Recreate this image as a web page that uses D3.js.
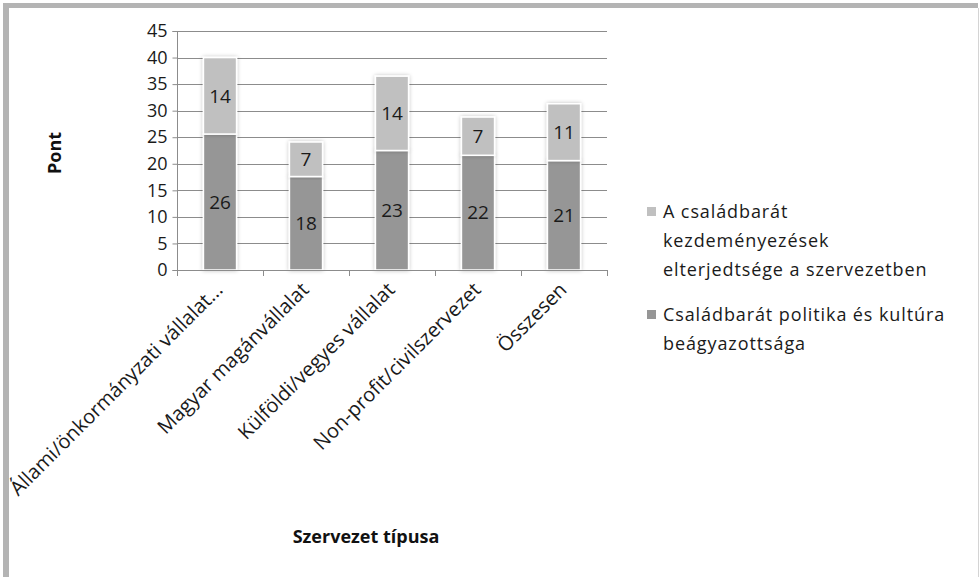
<!DOCTYPE html>
<html><head><meta charset="utf-8">
<script src="https://cdn.jsdelivr.net/npm/d3@7"></script>
<style>
body{margin:0;background:#fff;}
svg{display:block;font-family:"Open Sans",sans-serif;}
</style></head>
<body>
<svg id="c" width="980" height="577"></svg>
<script>
const categories = ["Állami/önkormányzati vállalat...","Magyar magánvállalat","Külföldi/vegyes vállalat","Non-profit/civilszervezet","Összesen"];
const seriesNames = ["Családbarát politika és kultúra beágyazottsága","A családbarát kezdeményezések elterjedtsége a szervezetben"];
const politika = [25.6, 17.6, 22.5, 21.6, 20.6];
const kezdemenyezes = [14.4, 6.5, 14.0, 7.2, 10.7];
const yTicks = [0,5,10,15,20,25,30,35,40,45];
const legendLines = [["A családbarát","kezdeményezések","elterjedtsége a szervezetben"],["Családbarát politika és kultúra","beágyazottsága"]];

const svg = d3.select("#c");
const colors = ["#969696","#c0c0c0"];

// frame
svg.append("rect").attr("x",3).attr("y",3).attr("width",975).attr("height",5).attr("fill","#b4b4b4");
svg.append("rect").attr("x",3).attr("y",3).attr("width",6).attr("height",574).attr("fill","#b4b4b4");
svg.append("rect").attr("x",978).attr("y",8).attr("width",1).attr("height",569).attr("fill","#d4d4d4");

const defs = svg.append("defs");
const f = defs.append("filter").attr("id","sh").attr("x","-30%").attr("y","-10%").attr("width","160%").attr("height","120%");
f.append("feGaussianBlur").attr("in","SourceAlpha").attr("stdDeviation",2).attr("result","b");
f.append("feComponentTransfer").attr("in","b").attr("result","b2").append("feFuncA").attr("type","linear").attr("slope",0.25);
const m = f.append("feMerge"); m.append("feMergeNode").attr("in","b2"); m.append("feMergeNode").attr("in","SourceGraphic");

const x0 = 177, x1 = 607, yb = 270, yt = 31;
const x = d3.scaleBand().domain(categories).range([x0,x1]).paddingInner(0.615).paddingOuter(0.3075);
const y = d3.scaleLinear().domain([0,45]).range([yb,yt]);

// gridlines
svg.append("g").selectAll("line").data(yTicks.filter(d=>d>0)).join("line")
  .attr("x1",x0).attr("x2",x1).attr("y1",d=>Math.round(y(d))+0.5).attr("y2",d=>Math.round(y(d))+0.5)
  .attr("stroke","#8c8c8c").attr("stroke-width",1);

// stacked bars
const rows = categories.map((c,i)=>({cat:c, politika:politika[i], kezdemenyezes:kezdemenyezes[i]}));
const stack = d3.stack().keys(["politika","kezdemenyezes"])(rows);
const gb = svg.append("g");
stack.forEach((layer,li)=>{
  gb.append("g").selectAll("rect").data(layer).join("rect")
    .attr("x",d=>x(d.data.cat)).attr("width",x.bandwidth())
    .attr("y",d=>y(d[1])).attr("height",d=>y(d[0])-y(d[1]))
    .attr("fill",colors[li]).attr("stroke","#fff").attr("stroke-width",1.5)
    .attr("filter","url(#sh)");
});
stack.forEach((layer,li)=>{
  gb.append("g").selectAll("text").data(layer).join("text")
    .attr("x",d=>x(d.data.cat)+x.bandwidth()/2).attr("y",d=>(y(d[0])+y(d[1]))/2)
    .attr("dy","0.36em").attr("text-anchor","middle").attr("font-size",19).attr("fill","#1a1a1a")
    .text(d=>Math.round(d[1]-d[0]));
});

// axes
const ya = d3.axisLeft(y).tickValues(yTicks).tickSize(5).tickPadding(5);
const gy = svg.append("g").attr("transform",`translate(${x0+0.5},0)`).call(ya);
gy.select(".domain").attr("stroke","#8c8c8c").attr("d",`M-5,${yb+0.5}H0V${yt+0.5}H-5`);
gy.selectAll(".tick line").attr("stroke","#8c8c8c");
gy.selectAll(".tick text").attr("font-size",18).attr("fill","#1a1a1a").attr("font-family","Open Sans");

const bounds = d3.range(categories.length+1).map(i=>x0+i*x.step());
const gx = svg.append("g");
gx.append("line").attr("x1",x0).attr("x2",x1).attr("y1",yb+0.5).attr("y2",yb+0.5).attr("stroke","#8c8c8c");
gx.selectAll("line.t").data(bounds).join("line").attr("class","t")
  .attr("x1",d=>Math.round(d)+0.5).attr("x2",d=>Math.round(d)+0.5).attr("y1",yb).attr("y2",yb+6).attr("stroke","#8c8c8c");
gx.selectAll("text").data(categories).join("text")
  .attr("transform",d=>`translate(${x(d)+x.bandwidth()/2+4},${yb+21}) rotate(-45)`)
  .attr("text-anchor","end").attr("font-size",20).attr("fill","#1a1a1a").text(d=>d);

// axis titles
svg.append("text").attr("transform","translate(61,153) rotate(-90)").attr("text-anchor","middle")
  .attr("font-size",18).attr("font-weight","bold").attr("fill","#111").text("Pont");
svg.append("text").attr("x",366).attr("y",543).attr("text-anchor","middle")
  .attr("font-size",18).attr("font-weight","bold").attr("fill","#111").text("Szervezet típusa");

// legend
const lg = svg.append("g");
const legendItems = [{lines:legendLines[0], color:colors[1], y0:212},{lines:legendLines[1], color:colors[0], y0:315}];
legendItems.forEach(it=>{
  lg.append("rect").attr("x",647).attr("y",it.y0-5).attr("width",9).attr("height",9).attr("fill",it.color);
  it.lines.forEach((ln,j)=>{
    lg.append("text").attr("x",663).attr("y",it.y0+j*29).attr("dy","0.35em").attr("font-size",18)
      .attr("letter-spacing",0.9).attr("fill","#1a1a1a").text(ln);
  });
});
</script>
</body></html>
